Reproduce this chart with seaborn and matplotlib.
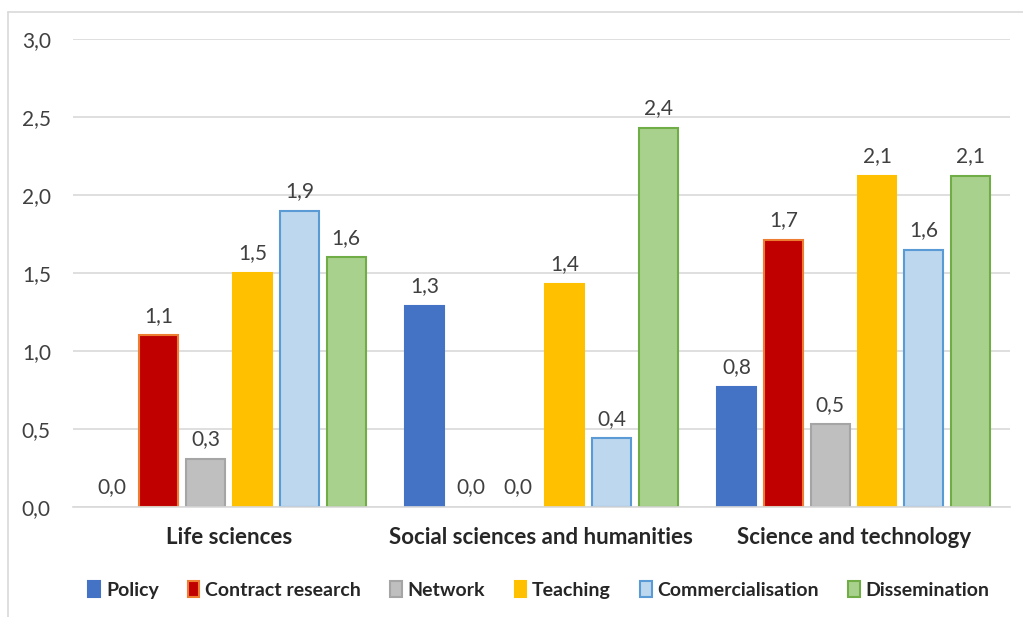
import pandas as pd
import numpy as np
import matplotlib.pyplot as plt
import seaborn as sns
from matplotlib.patches import Patch
from matplotlib.lines import Line2D

# ── data ────────────────────────────────────────────────────────────────────
categories = ["Life sciences", "Social sciences and humanities", "Science and technology"]
series = ["Policy", "Contract research", "Network", "Teaching", "Commercialisation", "Dissemination"]

policy = [0.0, 1.29, 0.77]
contract_research = [1.10, 0.0, 1.71]
network = [0.31, 0.0, 0.53]
teaching = [1.50, 1.43, 2.12]
commercialisation = [1.90, 0.44, 1.65]
dissemination = [1.60, 2.43, 2.12]

fill_colors = ["#4472C4", "#C00000", "#BFBFBF", "#FFC000", "#BDD7EE", "#A9D18E"]
edge_colors = ["#4472C4", "#ED7D31", "#A5A5A5", "#FFC000", "#5B9BD5", "#70AD47"]

values = [policy, contract_research, network, teaching, commercialisation, dissemination]
df = pd.DataFrame([
    {"category": c, "series": s, "value": v}
    for s, vals in zip(series, values)
    for c, v in zip(categories, vals)
])

# ── plot ────────────────────────────────────────────────────────────────────
sns.set_style("white")
plt.rcParams["font.family"] = ["Lato", "DejaVu Sans"]

fig = plt.figure(figsize=(10.23, 6.17), dpi=100)
ax = fig.add_axes([0.0714, 0.178, 0.9156, 0.759])

sns.barplot(data=df, x="category", y="value", hue="series",
            order=categories, hue_order=series, palette=fill_colors,
            width=0.9, gap=0.17, ax=ax, legend=False, saturation=1)

for cont, ec in zip(ax.containers, edge_colors):
    for bar in cont:
        bar.set_edgecolor(ec)
        bar.set_linewidth(1.5 if bar.get_height() > 0 else 0)
    ax.bar_label(cont, labels=[f"{b.get_height():.1f}".replace(".", ",") for b in cont],
                 padding=7, fontsize=15, color="#404040")

ax.set_ylim(0, 3.0)
ax.set_yticks(np.arange(0, 3.01, 0.5))
ax.set_yticklabels([f"{t:.1f}".replace(".", ",") for t in np.arange(0, 3.01, 0.5)])
ax.yaxis.grid(True, color="#D9D9D9", linewidth=1.2)
ax.set_axisbelow(True)
for side in ["top", "right", "left"]:
    ax.spines[side].set_visible(False)
ax.spines["bottom"].set_color("#D9D9D9")
ax.spines["bottom"].set_linewidth(1.2)
ax.tick_params(axis="y", length=0, pad=16, labelsize=15, labelcolor="#404040")
ax.tick_params(axis="x", length=0, pad=14, labelsize=16)
for lab in ax.get_xticklabels():
    lab.set_fontweight("bold")
    lab.set_color("#262626")
ax.set_xlabel("")
ax.set_ylabel("")

handles = [Patch(facecolor=f, edgecolor=e, linewidth=1.5) for f, e in zip(fill_colors, edge_colors)]
leg = fig.legend(handles, series, loc="center", bbox_to_anchor=(0.527, 0.044), ncol=6,
                 frameon=False, handlelength=0.6, handleheight=0.9, handletextpad=0.3,
                 columnspacing=1.5, prop={"size": 14, "weight": "bold"})
for t in leg.get_texts():
    t.set_color("#262626")

# chart border (top and left visible)
fig.add_artist(Line2D([8 / 1023, 8 / 1023], [0, 1 - 12 / 617], transform=fig.transFigure,
                      color="#D9D9D9", linewidth=1.2))
fig.add_artist(Line2D([8 / 1023, 1], [1 - 12 / 617, 1 - 12 / 617], transform=fig.transFigure,
                      color="#D9D9D9", linewidth=1.2))

plt.savefig("out.png", dpi=100)
plt.close()
